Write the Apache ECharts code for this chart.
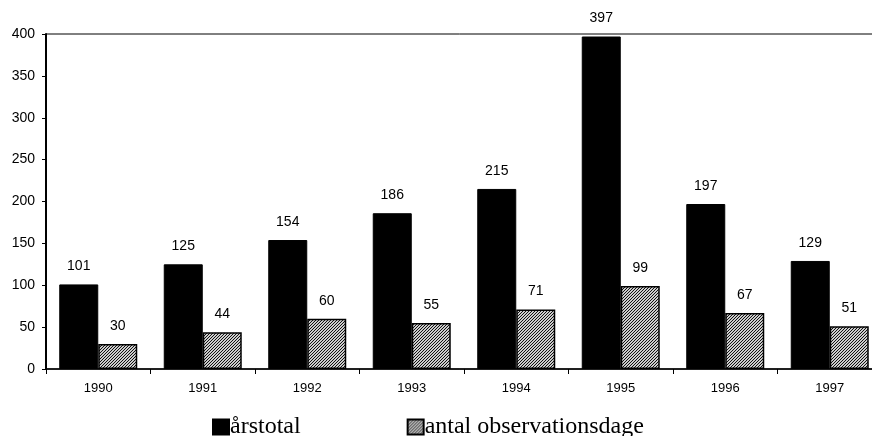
<!DOCTYPE html>
<html>
<head>
<meta charset="utf-8">
<script src="https://cdn.jsdelivr.net/npm/echarts@6/dist/echarts.min.js"></script>
<style>
  html, body { margin: 0; padding: 0; background: #fff; }
  #main { width: 872px; height: 436px; }
</style>
</head>
<body>
<div id="main"></div>
<script>
// data
var years = ['1990', '1991', '1992', '1993', '1994', '1995', '1996', '1997'];
var arstotal = [101, 125, 154, 186, 215, 397, 197, 129];
var observationsdage = [30, 44, 60, 55, 71, 99, 67, 51];

// skraveret mønster til anden serie
function makeHatch(){
  var c = document.createElement('canvas');
  c.width = 3; c.height = 3;
  var ctx = c.getContext('2d');
  ctx.fillStyle = '#cccccc';
  ctx.fillRect(0, 0, 3, 3);
  ctx.strokeStyle = '#111';
  ctx.lineWidth = 1;
  ctx.beginPath();
  ctx.moveTo(0, 3); ctx.lineTo(3, 0);
  ctx.moveTo(-1, 1); ctx.lineTo(1, -1);
  ctx.moveTo(2, 4); ctx.lineTo(4, 2);
  ctx.stroke();
  return c;
}

var chart = echarts.init(document.getElementById('main'));
var sansFont = 'Liberation Sans, Arial, sans-serif';
var labelStyle = {
  show: true,
  position: 'top',
  distance: 11,
  color: '#000',
  fontFamily: sansFont,
  fontSize: 14
};

var option = {
  animation: false,
  backgroundColor: '#fff',
  grid: {
    left: 46,
    top: 34,
    width: 836,
    height: 335,
    outerBoundsMode: 'none',
    show: true,
    borderColor: '#000',
    borderWidth: 1
  },
  legend: {
    left: 212,
    top: 415,
    padding: 0,
    itemWidth: 16,
    itemHeight: 15,
    itemGap: 106,
    icon: 'rect',
    textStyle: {
      color: '#000',
      fontFamily: 'Liberation Serif, Times New Roman, serif',
      fontSize: 24,
      padding: [0, 0, 0, -4]
    },
    data: ['årstotal', 'antal observationsdage']
  },
  xAxis: {
    type: 'category',
    data: years,
    axisLine: { lineStyle: { color: '#000', width: 1.5 } },
    axisTick: { show: true, length: 5, lineStyle: { color: '#000' } },
    axisLabel: {
      color: '#000',
      fontFamily: sansFont,
      fontSize: 13,
      margin: 13
    }
  },
  yAxis: {
    type: 'value',
    min: 0,
    max: 400,
    interval: 50,
    splitLine: { show: false },
    axisLine: { show: true, lineStyle: { color: '#000', width: 2 } },
    axisTick: { show: true, length: 4, lineStyle: { color: '#000' } },
    axisLabel: {
      color: '#000',
      fontFamily: sansFont,
      fontSize: 14,
      margin: 11
    }
  },
  series: [
    {
      name: 'årstotal',
      type: 'bar',
      data: arstotal,
      barWidth: 39,
      barGap: '0%',
      itemStyle: { color: '#000', borderColor: '#000', borderWidth: 1 },
      label: labelStyle
    },
    {
      name: 'antal observationsdage',
      type: 'bar',
      data: observationsdage,
      barWidth: 39,
      itemStyle: {
        color: { image: makeHatch(), repeat: 'repeat' },
        borderColor: '#000',
        borderWidth: 1.5
      },
      label: labelStyle
    }
  ]
};

chart.setOption(option);
</script>
</body>
</html>
